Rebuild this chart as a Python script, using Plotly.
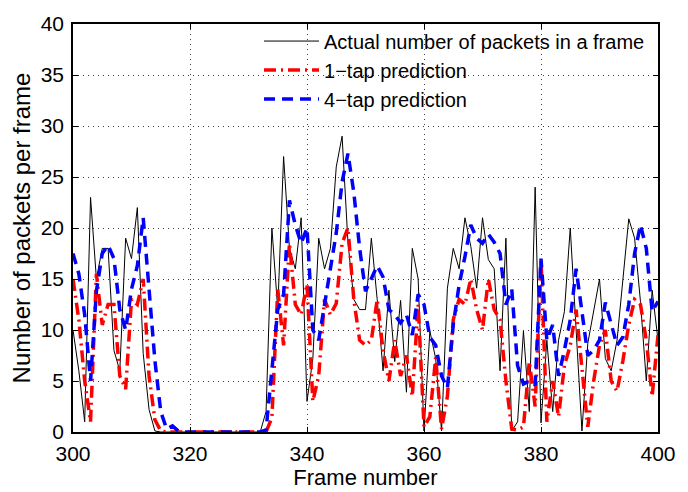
import plotly.graph_objects as go

frames = list(range(300, 401))

actual = [10, 6, 1, 23, 15, 18, 18, 8, 6, 19,
          17, 22, 7.7, 2.2, 0.1, 0, 0, 0, 0, 0,
          0, 0, 0, 0, 0, 0, 0, 0, 0, 0,
          0, 0, 0, 2, 20, 12, 27, 18, 16, 21,
          3, 7.2, 19, 16, 18, 26, 29, 18.6, 13, 12,
          12, 19, 13, 6, 13.9, 6.9, 12.9, 3.9, 18, 15,
          0.1, 9.9, 7.2, 0.1, 14.1, 18, 16, 21, 18.2, 14.1,
          21, 16.9, 16, 6, 19, 0.1, 1, 9.9, 2, 24,
          0.9, 9, 2, 9, 11.8, 20, 9.9, 0.1, 8.7, 11.8,
          15, 7.2, 6, 9, 15, 20.9, 19, 12.8, 5, 13.9,
          9]

tap1 = [15, 11, 5, 1, 15.5, 10.5, 12.5, 12.5, 5.5, 4.2,
        13, 12.5, 15, 5.5, 1.2, 0.1, 0, 0, 0, 0,
        0, 0, 0, 0, 0, 0, 0, 0, 0, 0,
        0, 0, 0, 0, 1.4, 14, 8.5, 18.5, 12.5, 11.5,
        14.5, 3, 5.5, 13, 11.5, 12.6, 18.5, 20, 13, 9,
        8.5, 9, 13, 8, 5, 9, 5.5, 7.5, 3.5, 12.5,
        0.5, 1.5, 7.3, 0.3, 3.5, 11, 13, 12.5, 15, 12,
        10, 15, 12, 11, 5, 0.3, 0.2, 0.5, 6.9, 2.5,
        17, 1, 5, 1.5, 6.5, 8.5, 12, 6, 0.5, 5,
        8.5, 10, 5, 4, 7, 10.5, 13, 12.5, 9, 3.5,
        9.5]

tap4 = [17.5, 15.5, 11.5, 5, 13.8, 17.5, 18.3, 17, 12, 10,
        14, 16.3, 21, 14, 7, 2, 0.3, 0.6, 0.1, 0,
        0, 0, 0, 0, 0, 0, 0, 0, 0, 0,
        0, 0, 0, 0.2, 6, 12, 13.5, 22.7, 20.3, 18.5,
        20, 10, 9, 12.5, 15.5, 19.5, 24.5, 27.3, 23.5, 18,
        13.8, 15, 16.3, 15.2, 12, 11.5, 10.7, 11.5, 9.5, 13.5,
        12.5, 9.3, 8.5, 5.5, 4.3, 10.5, 14.4, 17.2, 20.3, 19,
        18.5, 19.4, 18.6, 17.5, 12.5, 14, 6.5, 4.7, 5, 4.6,
        17, 9, 10.5, 5.5, 8, 11, 16, 11.8, 7.5, 8,
        9, 12.7, 10.5, 8.5, 9.3, 12.5, 17.5, 20.3, 18, 11.8,
        12.8]

x_ticks = [300, 320, 340, 360, 380, 400]
y_ticks = [0, 5, 10, 15, 20, 25, 30, 35, 40]

FONT = "Liberation Sans, Arial, Helvetica, sans-serif"

fig = go.Figure()
fig.add_trace(go.Scatter(x=frames, y=actual, mode="lines",
                         name="Actual number of packets in a frame",
                         line=dict(color="black", width=1)))
fig.add_trace(go.Scatter(x=frames, y=tap1, mode="lines",
                         name="1\u2212tap prediction",
                         line=dict(color="#ff0000", width=3.5, dash="12px,5px,2px,5px")))
fig.add_trace(go.Scatter(x=frames, y=tap4, mode="lines",
                         name="4\u2212tap prediction",
                         line=dict(color="#0000ff", width=3.5, dash="11px,7px")))

axis_common = dict(
    showline=True, linecolor="black", linewidth=1.5, mirror="ticks",
    ticks="inside", ticklen=5, tickcolor="black", tickwidth=1,
    showgrid=True, gridcolor="rgba(0,0,0,0.75)", gridwidth=1, griddash="1px,4px",
    zeroline=False,
    tickfont=dict(family=FONT, size=21, color="black"),
)

fig.update_xaxes(range=[300, 400], tickvals=x_ticks, ticklabelstandoff=2,
                 title=dict(text="Frame number", font=dict(family=FONT, size=22, color="black"), standoff=0),
                 **axis_common)
fig.update_yaxes(range=[0, 40], tickvals=y_ticks, ticklabelstandoff=3,
                 title=dict(text="Number of packets per frame", font=dict(family=FONT, size=24, color="black"), standoff=3),
                 **axis_common)

fig.update_layout(
    width=688, height=492,
    margin=dict(l=73, r=19, t=17, b=54),
    paper_bgcolor="white", plot_bgcolor="white",
    showlegend=True,
    legend=dict(x=0.318, y=1.006, xanchor="left", yanchor="top",
                bgcolor="rgba(0,0,0,0)", borderwidth=0,
                font=dict(family=FONT, size=20, color="black"),
                tracegroupgap=0, itemwidth=55),
)

fig.write_html("out.html")
